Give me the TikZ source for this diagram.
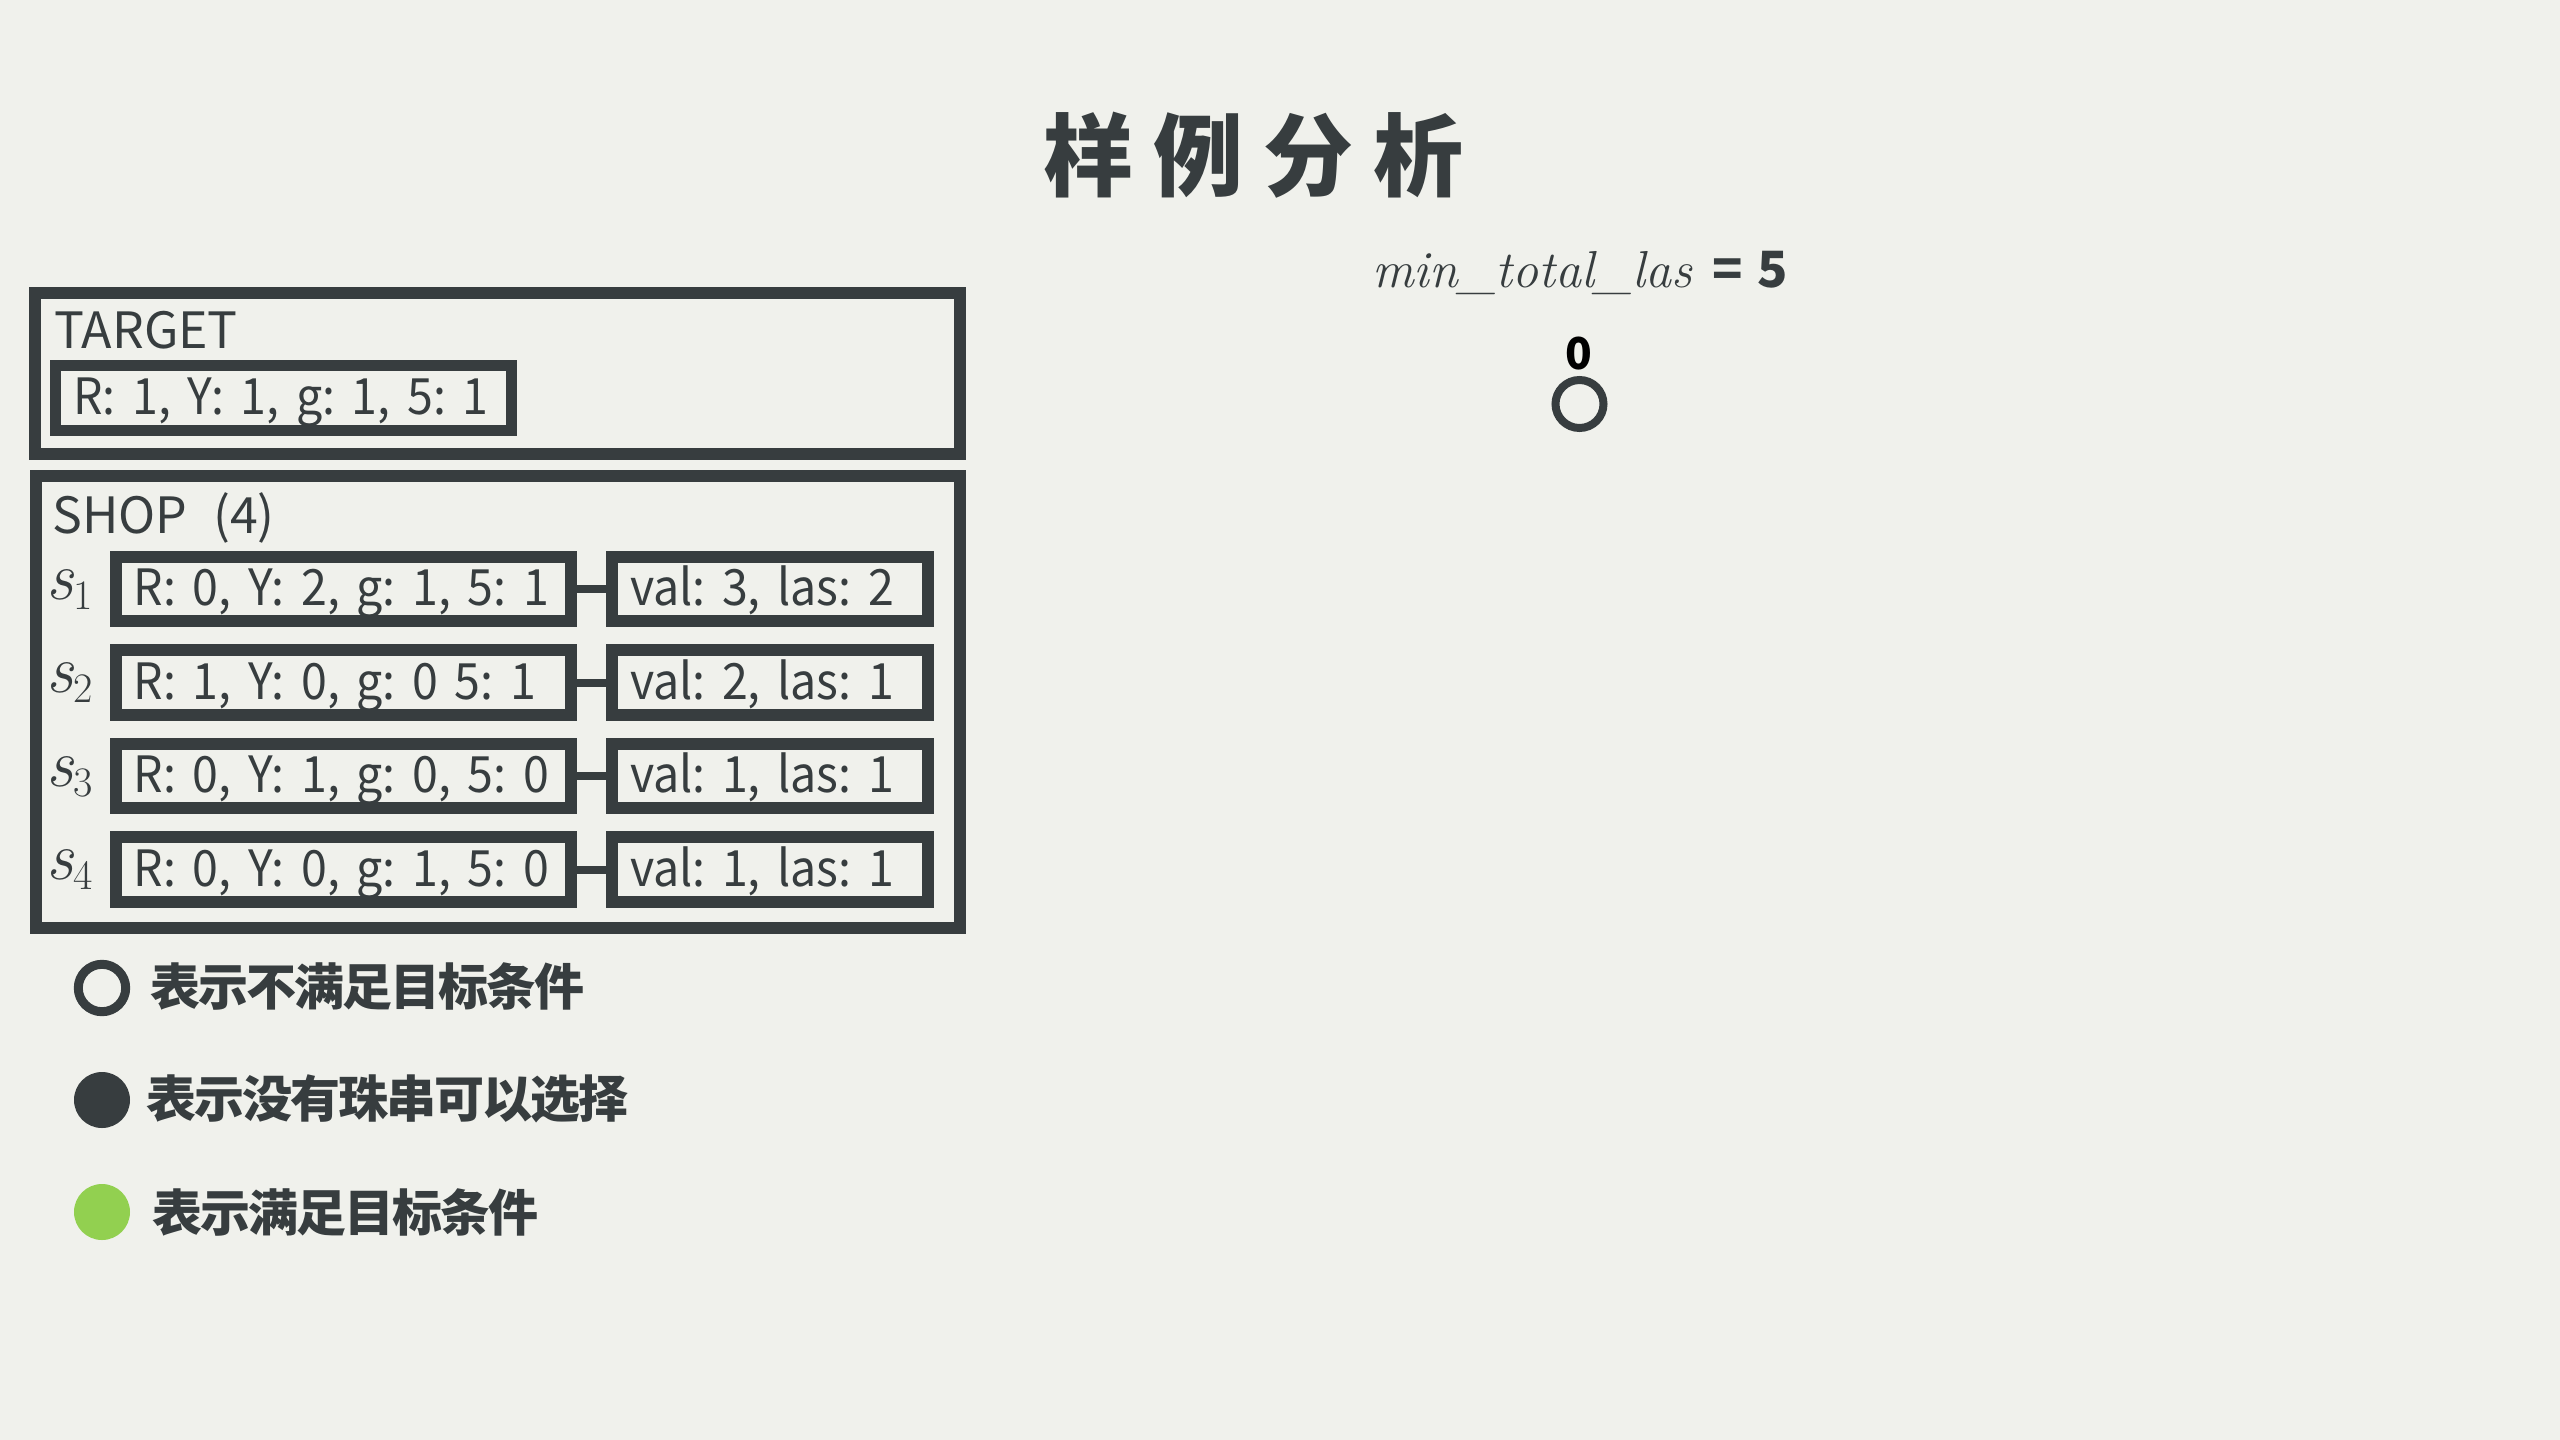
\documentclass[tikz,border=0pt]{standalone}
\usepackage{fontspec}
\newfontfamily\cjk{Noto Sans CJK SC}
\newfontfamily\cjkn{Noto Sans CJK SC}[FakeStretch=0.93]
\definecolor{ink}{HTML}{373D3F}
\definecolor{bg}{HTML}{F0F1EC}
\definecolor{okgreen}{HTML}{92D050}
\newcommand\slab[1]{{\itshape s}\raisebox{-10pt}{\fontsize{42}{44}\selectfont #1}}
\frenchspacing
\begin{document}
\begin{tikzpicture}[x=1pt,y=-1pt,
  bigbox/.style={draw=ink,line width=12pt,rectangle,inner sep=0pt},
  rowbox/.style={draw=ink,line width=12pt,rectangle,minimum height=64.4pt,text height=33pt,text depth=0pt,inner xsep=18pt,inner ysep=0pt,align=left,text=ink,font=\cjkn\fontsize{50}{60}\selectfont},
  leftbox/.style={rowbox,minimum width=455.3pt,text width=419.3pt},
  rightbox/.style={rowbox,minimum width=316pt,text width=280pt},
  link/.style={draw=ink,line width=8pt},
  lbl/.style={inner sep=0pt,text=ink,font=\cjk\fontsize{50}{60}\selectfont},
  slbl/.style={inner sep=0pt,text=ink,font=\fontsize{68}{74}\selectfont},
  legtext/.style={inner sep=0pt,text=ink,anchor=west,font=\cjk\bfseries\fontsize{50}{60}\selectfont\addfontfeature{LetterSpace=-4}},
  legdot/.style={circle,inner sep=0pt,minimum size=56pt}
]
\fill[bg] (0,0) rectangle (2560,1440);
\useasboundingbox (0,0) rectangle (2560,1440);

% title
\node[inner sep=0pt,text=ink,font=\cjk\bfseries\fontsize{90}{100}\selectfont] (title) at (1253.5,155)
  {样\hspace{20pt}例\hspace{20pt}分\hspace{20pt}析};

% target
\node[bigbox,minimum width=925.3pt,minimum height=161pt] (target) at (497.4,373) {};
\node[lbl,anchor=base west] (targetlbl) at (54,348) {TARGET};
\node[rowbox,line width=11pt,minimum width=456pt,text width=420pt,minimum height=65.2pt] (tgt) at (283.2,397.9) {\mbox{R: 1, Y: 1, g: 1, 5: 1}};

% shop
\node[bigbox,minimum width=924pt,minimum height=452pt] (shop) at (498,702) {};
\node[lbl,anchor=base west] (shoplbl) at (52,533) {SHOP\hspace{26pt}(4)};

\node[leftbox] (l1) at (343.4,589) {\mbox{R: 0, Y: 2, g: 1, 5: 1}};
\node[rightbox] (r1) at (770,589) {\mbox{val: 3, las: 2}};
\node[leftbox] (l2) at (343.4,682.5) {\mbox{R: 1, Y: 0, g: 0 5: 1}};
\node[rightbox] (r2) at (770,682.5) {\mbox{val: 2, las: 1}};
\node[leftbox] (l3) at (343.4,776) {\mbox{R: 0, Y: 1, g: 0, 5: 0}};
\node[rightbox] (r3) at (770,776) {\mbox{val: 1, las: 1}};
\node[leftbox] (l4) at (343.4,869.5) {\mbox{R: 0, Y: 0, g: 1, 5: 0}};
\node[rightbox] (r4) at (770,869.5) {\mbox{val: 1, las: 1}};
\draw[link] (l1.east) -- (r1.west);
\draw[link] (l2.east) -- (r2.west);
\draw[link] (l3.east) -- (r3.west);
\draw[link] (l4.east) -- (r4.west);

\node[slbl,anchor=base west] (s1) at (46,599) {\slab{1}};
\node[slbl,anchor=base west] (s2) at (46,692.5) {\slab{2}};
\node[slbl,anchor=base west] (s3) at (46,786) {\slab{3}};
\node[slbl,anchor=base west] (s4) at (46,879.5) {\slab{4}};

% legend
\node[legdot,draw=ink,line width=9pt,minimum size=47.4pt] (leg1) at (102,988) {};
\node[legtext] (legt1) at (150,986.5) {表示不满足目标条件};
\node[legdot,fill=ink] (leg2) at (102,1100) {};
\node[legtext] (legt2) at (146,1099) {表示没有珠串可以选择};
\node[legdot,fill=okgreen] (leg3) at (102,1212) {};
\node[legtext] (legt3) at (152,1212.5) {表示满足目标条件};

% right side
\node[inner sep=0pt,text=ink,anchor=base west] (minlas) at (1372,287)
  {\fontsize{52}{60}\selectfont\textit{min\_total\_las}\hspace{20pt}{\cjk\bfseries\fontsize{50}{60}\selectfont =\hspace{14pt}5}};
\node[inner sep=0pt,text=black,font=\cjk\bfseries\fontsize{44}{50}\selectfont] (zero) at (1579,354) {0};
\node[circle,draw=ink,line width=8pt,inner sep=0pt,minimum size=48pt] (root) at (1579.5,404) {};
\end{tikzpicture}
\end{document}
